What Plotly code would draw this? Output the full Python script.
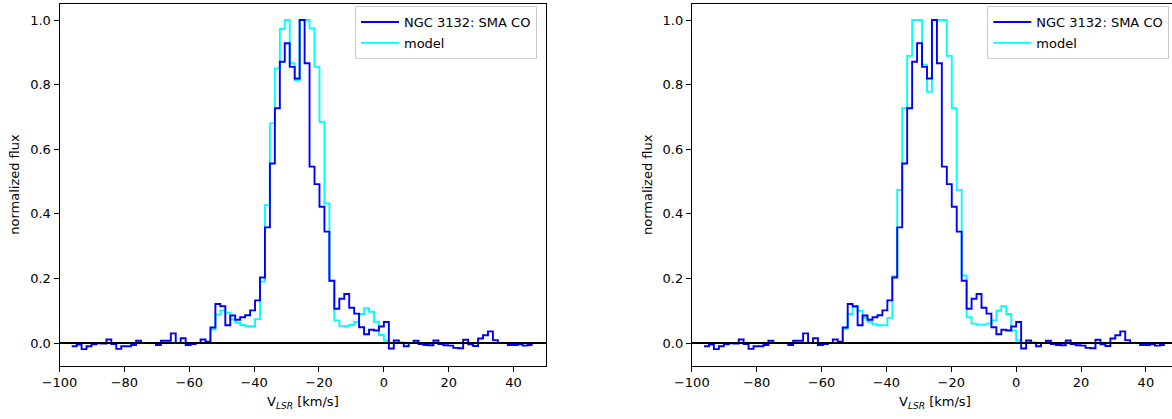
import plotly.graph_objects as go

W, H = 1172, 419

# Channel centre velocities (km/s)
v_chan = [
    -95.48, -93.95, -92.42, -90.90, -89.37, -87.84, -86.31, -84.78, -83.26, -81.73,
    -80.20, -78.67, -77.14, -75.62, -74.09, -72.56, -71.03, -69.50, -67.98, -66.45,
    -64.92, -63.39, -61.86, -60.34, -58.81, -57.28, -55.75, -54.22, -52.70, -51.17,
    -49.64, -48.11, -46.58, -45.06, -43.53, -42.00, -40.47, -38.94, -37.42, -35.89,
    -34.36, -32.83, -31.30, -29.78, -28.25, -26.72, -25.19, -23.66, -22.14, -20.61,
    -19.08, -17.55, -16.02, -14.50, -12.97, -11.44, -9.91, -8.38, -6.86, -5.33,
    -3.80, -2.27, -0.74, 0.78, 2.31, 3.84, 5.37, 6.90, 8.42, 9.95,
    11.48, 13.01, 14.54, 16.06, 17.59, 19.12, 20.65, 22.18, 23.70, 25.23,
    26.76, 28.29, 29.82, 31.34, 32.87, 34.40, 35.93, 37.46, 38.98, 40.51,
    42.04, 43.57, 45.10,
]

# Observed SMA CO spectrum (normalized)
flux_obs = [
    -0.010, -0.005, -0.019, -0.010, -0.004, -0.001, -0.002, 0.011, -0.003, -0.018,
    -0.010, -0.010, -0.006, 0.007, 0.000, 0.000, 0.000, -0.006, 0.007, 0.007,
    0.030, 0.000, 0.015, -0.006, -0.003, 0.000, 0.011, 0.004, 0.048, 0.121,
    0.114, 0.055, 0.085, 0.072, 0.080, 0.086, 0.101, 0.132, 0.203, 0.358,
    0.556, 0.727, 0.871, 0.928, 0.855, 0.819, 1.000, 0.866, 0.546, 0.492,
    0.422, 0.345, 0.193, 0.106, 0.137, 0.152, 0.109, 0.091, 0.049, 0.027,
    0.041, 0.039, 0.051, 0.065, -0.017, 0.008, 0.001, -0.010, 0.000, 0.007,
    -0.003, -0.006, -0.007, 0.008, -0.003, -0.007, -0.008, -0.015, -0.016, 0.010,
    -0.004, -0.009, 0.014, 0.024, 0.036, 0.009, 0.000, 0.000, -0.006, -0.006,
    -0.004, -0.008, -0.006,
]

# Model spectrum, left panel
model_left = [
    0.0, 0.0, 0.0, 0.0, 0.0, 0.0, 0.0, 0.0, 0.0, 0.0,
    0.0, 0.0, 0.0, 0.0, 0.0, 0.0, 0.0, 0.0, 0.0, 0.0,
    0.0, 0.0, 0.0, 0.0, 0.0, 0.0, 0.0, 0.0, 0.042, 0.088,
    0.101, 0.094, 0.073, 0.063, 0.056, 0.052, 0.052, 0.074, 0.190, 0.427,
    0.680, 0.850, 0.972, 1.000, 0.866, 0.814, 1.000, 1.000, 0.974, 0.855,
    0.685, 0.432, 0.193, 0.070, 0.053, 0.052, 0.056, 0.065, 0.090, 0.108,
    0.097, 0.066, 0.025, 0.007, 0.0, 0.0, 0.0, 0.0, 0.0, 0.0,
    0.0, 0.0, 0.0, 0.0, 0.0, 0.0, 0.0, 0.0, 0.0, 0.0,
    0.0, 0.0, 0.0, 0.0, 0.0, 0.0, 0.0, 0.0, 0.0, 0.0,
    0.0, 0.0, 0.0,
]

# Model spectrum, right panel
model_right = [
    0.0, 0.0, 0.0, 0.0, 0.0, 0.0, 0.0, 0.0, 0.0, 0.0,
    0.0, 0.0, 0.0, 0.0, 0.0, 0.0, 0.0, 0.0, 0.0, 0.0,
    0.0, 0.0, 0.0, 0.0, 0.0, 0.0, 0.0, 0.0, 0.044, 0.090,
    0.111, 0.100, 0.078, 0.066, 0.058, 0.055, 0.055, 0.078, 0.207, 0.474,
    0.727, 0.889, 1.000, 1.000, 0.862, 0.778, 1.000, 1.000, 1.000, 0.889,
    0.727, 0.474, 0.209, 0.080, 0.060, 0.057, 0.057, 0.060, 0.070, 0.100,
    0.114, 0.090, 0.039, 0.008, 0.0, 0.0, 0.0, 0.0, 0.0, 0.0,
    0.0, 0.0, 0.0, 0.0, 0.0, 0.0, 0.0, 0.0, 0.0, 0.0,
    0.0, 0.0, 0.0, 0.0, 0.0, 0.0, 0.0, 0.0, 0.0, 0.0,
    0.0, 0.0, 0.0,
]

x_ticks = [-100, -80, -60, -40, -20, 0, 20, 40]
y_ticks = [0.0, 0.2, 0.4, 0.6, 0.8, 1.0]

obs_label = "NGC 3132: SMA CO"
model_label = "model"
x_title = "V<sub><i>LSR</i></sub> [km/s]"
y_title = "normalized flux"

FONT = "DejaVu Sans"


def step_xy(v, y):
    dv = v[1] - v[0]
    xs = [c - dv / 2 for c in v] + [v[-1] + dv / 2]
    ys = list(y) + [y[-1]]
    return xs, ys


fig = go.Figure()

panels = [
    ("x", "y", "legend", model_left),
    ("x2", "y2", "legend2", model_right),
]
for xa, ya, lg, model in panels:
    mx, my = step_xy(v_chan, model)
    fig.add_trace(go.Scatter(
        x=mx, y=my, mode="lines", line=dict(color="#00FFFF", width=1.9, shape="hv"),
        name=model_label, xaxis=xa, yaxis=ya, legend=lg, legendrank=2,
        legendgroup=lg + "m", hoverinfo="skip",
    ))
    ox, oy = step_xy(v_chan, flux_obs)
    fig.add_trace(go.Scatter(
        x=ox, y=oy, mode="lines", line=dict(color="#0000FF", width=1.9, shape="hv"),
        name=obs_label, xaxis=xa, yaxis=ya, legend=lg, legendrank=1,
        legendgroup=lg + "o", hoverinfo="skip",
    ))

# geometry (pixels)
L1, R1 = 59.5, 546.0
shift = 632.3
L2 = L1 + shift
px_per_unit = (R1 - L1) / 150.0
x2_max = -100 + (W - L2) / px_per_unit
top_px, bot_px = 3.7, 365.8
ydom = [(H - bot_px) / H, (H - top_px) / H]

axis_common = dict(
    showgrid=False, zeroline=False, showline=True, linecolor="black", linewidth=1,
    ticks="outside", ticklen=5, tickwidth=1, tickcolor="black",
    tickfont=dict(family=FONT, size=13, color="black"),
)

legend_common = dict(
    xanchor="right", y=1 - 6 / H, yanchor="top",
    bgcolor="rgba(255,255,255,0.8)", bordercolor="#cccccc", borderwidth=1,
    font=dict(family=FONT, size=13, color="black"),
    traceorder="grouped", tracegroupgap=1, itemwidth=38,
)

fig.update_layout(
    width=W, height=H,
    margin=dict(l=0, r=0, t=0, b=0),
    paper_bgcolor="white", plot_bgcolor="white",
    template="none",
    showlegend=True,
    xaxis=dict(domain=[L1 / W, R1 / W], range=[-100, 50], anchor="y",
               tickvals=x_ticks, mirror=True, **axis_common),
    yaxis=dict(domain=ydom, range=[-0.0705, 1.0505], anchor="x",
               tickvals=y_ticks, tickformat=".1f", mirror=True, **axis_common),
    xaxis2=dict(domain=[L2 / W, 1.0], range=[-100, x2_max], anchor="y2",
                tickvals=x_ticks, mirror=True, **axis_common),
    yaxis2=dict(domain=ydom, range=[-0.0705, 1.0505], anchor="x2",
                tickvals=y_ticks, tickformat=".1f", mirror=False, **axis_common),
    legend=dict(x=537 / W, **legend_common),
    legend2=dict(x=(537 + shift) / W, **legend_common),
)

# horizontal zero lines
for xr, yr in (("x domain", "y"), ("x2 domain", "y2")):
    fig.add_shape(type="line", xref=xr, yref=yr, x0=0, x1=1, y0=0, y1=0,
                  line=dict(color="black", width=2), layer="above")

# axis titles
ymid = (ydom[0] + ydom[1]) / 2
for xc, yl in (((L1 + R1) / 2, 15), ((L1 + R1) / 2 + shift, 15 + shift)):
    fig.add_annotation(text=x_title, xref="paper", yref="paper",
                       x=xc / W, y=1 - 402 / H, xanchor="center", yanchor="middle",
                       showarrow=False, font=dict(family=FONT, size=13, color="black"))
    fig.add_annotation(text=y_title, xref="paper", yref="paper",
                       x=yl / W, y=ymid, xanchor="center", yanchor="middle", textangle=-90,
                       showarrow=False, font=dict(family=FONT, size=13, color="black"))

fig.write_html("out.html", config={"displayModeBar": False})
